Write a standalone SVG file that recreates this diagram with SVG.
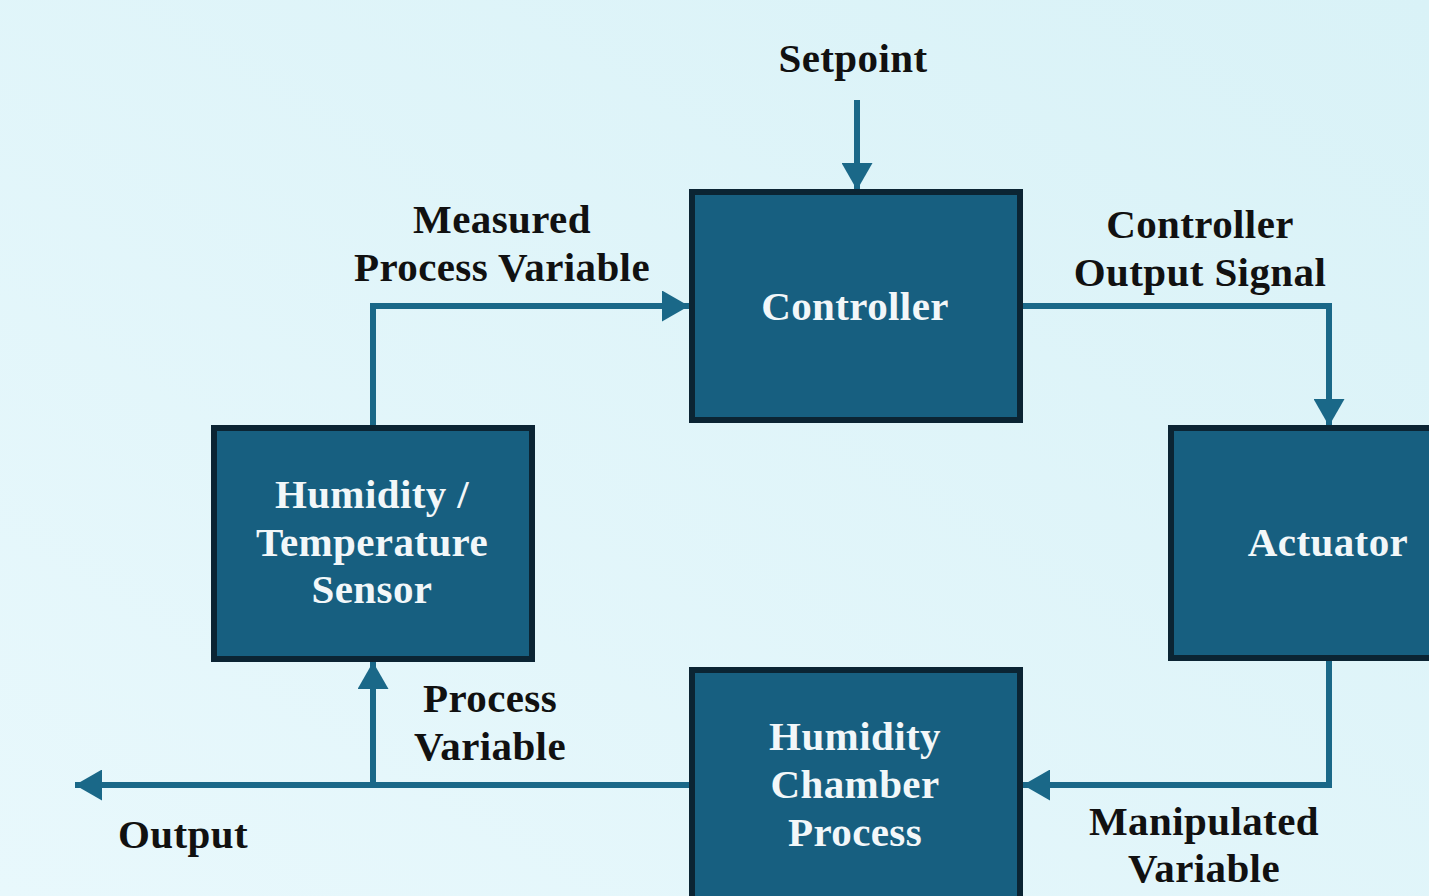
<svg xmlns="http://www.w3.org/2000/svg" width="1429" height="896" viewBox="0 0 1429 896">
<defs>
<linearGradient id="bg" x1="0" y1="1" x2="1" y2="0">
<stop offset="0" stop-color="#e8f8fc"/>
<stop offset="1" stop-color="#d9f2f7"/>
</linearGradient>
<marker id="ah" viewBox="0 0 27 31" refX="27" refY="15.5" markerWidth="27" markerHeight="31" markerUnits="userSpaceOnUse" orient="auto">
<path d="M0,0 L27,15.5 L0,31 Z" fill="#1a6888"/>
</marker>
<style>
.box{fill:#175f80;stroke:#0b2433;stroke-width:6}
.conn{fill:none;stroke:#1a6888;stroke-width:6}
.nt{font-weight:bold;font-size:41px;letter-spacing:0.4px;fill:#f2f7f9;text-anchor:middle}
.lb{font-weight:bold;font-size:41px;letter-spacing:0.4px;fill:#111;text-anchor:middle}
</style>
</defs>
<rect width="1429" height="896" fill="url(#bg)"/>
<g id="connectors">
<path class="conn" d="M857,100 L857,190" marker-end="url(#ah)"/>
<path class="conn" d="M373,428 L373,306 L689,306" marker-end="url(#ah)"/>
<path class="conn" d="M1023,306 L1329,306 L1329,426" marker-end="url(#ah)"/>
<path class="conn" d="M1329,661 L1329,785 L1023,785" marker-end="url(#ah)"/>
<path class="conn" d="M689,785 L75,785" marker-end="url(#ah)"/>
<path class="conn" d="M373,785 L373,662" marker-end="url(#ah)"/>
</g>
<g font-family="Liberation Serif, Times New Roman, serif">
<g id="controller">
<rect class="box" x="692" y="192" width="328" height="228"/>
<text class="nt" x="855" y="320">Controller</text>
</g>
<g id="sensor">
<rect class="box" x="214" y="428" width="318" height="231"/>
<text class="nt" x="372" y="508">Humidity /</text>
<text class="nt" x="372" y="556">Temperature</text>
<text class="nt" x="372" y="603">Sensor</text>
</g>
<g id="actuator">
<rect class="box" x="1171" y="428" width="320" height="230"/>
<text class="nt" x="1328" y="556">Actuator</text>
</g>
<g id="chamber">
<rect class="box" x="692" y="670" width="328" height="240"/>
<text class="nt" x="855" y="750">Humidity</text>
<text class="nt" x="855" y="798">Chamber</text>
<text class="nt" x="855" y="846">Process</text>
</g>
<g id="labels">
<text class="lb" x="853" y="72">Setpoint</text>
<text class="lb" x="502" y="233">Measured</text>
<text class="lb" x="502" y="281">Process Variable</text>
<text class="lb" x="1200" y="238">Controller</text>
<text class="lb" x="1200" y="286">Output Signal</text>
<text class="lb" x="490" y="712">Process</text>
<text class="lb" x="490" y="760">Variable</text>
<text class="lb" x="183" y="848">Output</text>
<text class="lb" x="1204" y="835">Manipulated</text>
<text class="lb" x="1204" y="882">Variable</text>
</g>
</g>
</svg>
